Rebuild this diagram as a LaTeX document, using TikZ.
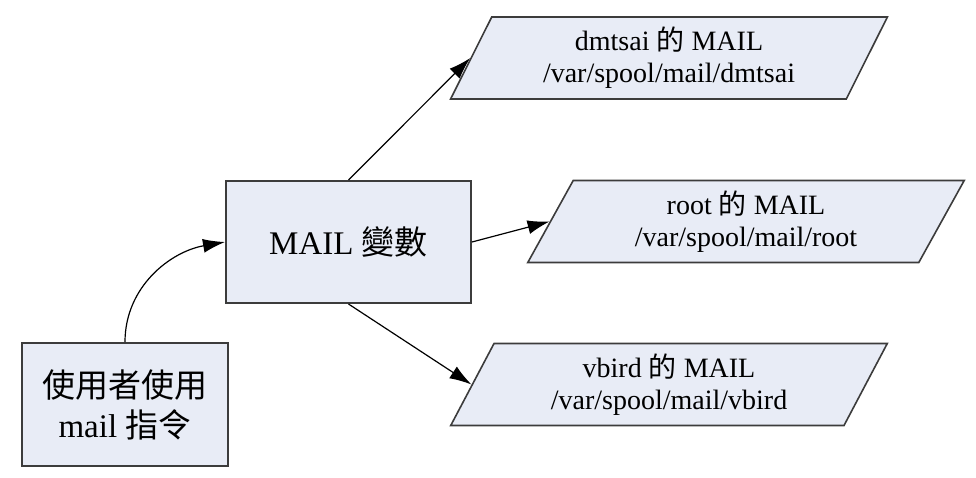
\documentclass[tikz,border=0pt]{standalone}
\usepackage{fontspec}
\setmainfont{Liberation Serif}
\newfontfamily\cjk{Noto Sans CJK TC}
\usetikzlibrary{shapes.geometric,arrows.meta}
\definecolor{boxfill}{RGB}{232,236,246}
\definecolor{boxline}{RGB}{60,60,60}
\begin{document}
\begin{tikzpicture}[x=1pt,y=-1pt,
  box/.style={draw=boxline,line width=2pt,fill=boxfill,inner sep=0pt,align=center,font=\fontsize{33}{40}\selectfont},
  para/.style={draw=boxline,line width=1.6pt,fill=boxfill,trapezium,trapezium left angle=64.6,trapezium right angle=115.4,trapezium stretches=true,minimum width=437pt,minimum height=82pt,inner sep=0pt,align=center,font=\fontsize{28}{32}\selectfont},
  conn/.style={-{Latex[length=22pt,width=14pt]},line width=1.2pt,black}]
\useasboundingbox (0,0) rectangle (976,478);
\node[box,minimum width=206pt,minimum height=123pt] (user) at (125,404.5) {{\cjk 使用者使用}\\mail {\cjk 指令}};
\node[box,minimum width=245pt,minimum height=122pt] (mailvar) at (348.5,242) {MAIL {\cjk 變數}};
\node[para] (p1) at (669,58) {dmtsai {\cjk 的} MAIL\\/var/spool/mail/dmtsai};
\node[para] (p2) at (746,221.5) {root {\cjk 的} MAIL\\/var/spool/mail/root};
\node[para] (p3) at (669,384.5) {vbird {\cjk 的} MAIL\\/var/spool/mail/vbird};
\draw[conn] (user.north) to[out=90,in=190] (mailvar.west);
\draw[conn] (mailvar.north) -- (p1.left side);
\draw[conn] (mailvar.east) -- (p2.left side);
\draw[conn] (mailvar.south) -- (p3.left side);
\end{tikzpicture}
\end{document}
